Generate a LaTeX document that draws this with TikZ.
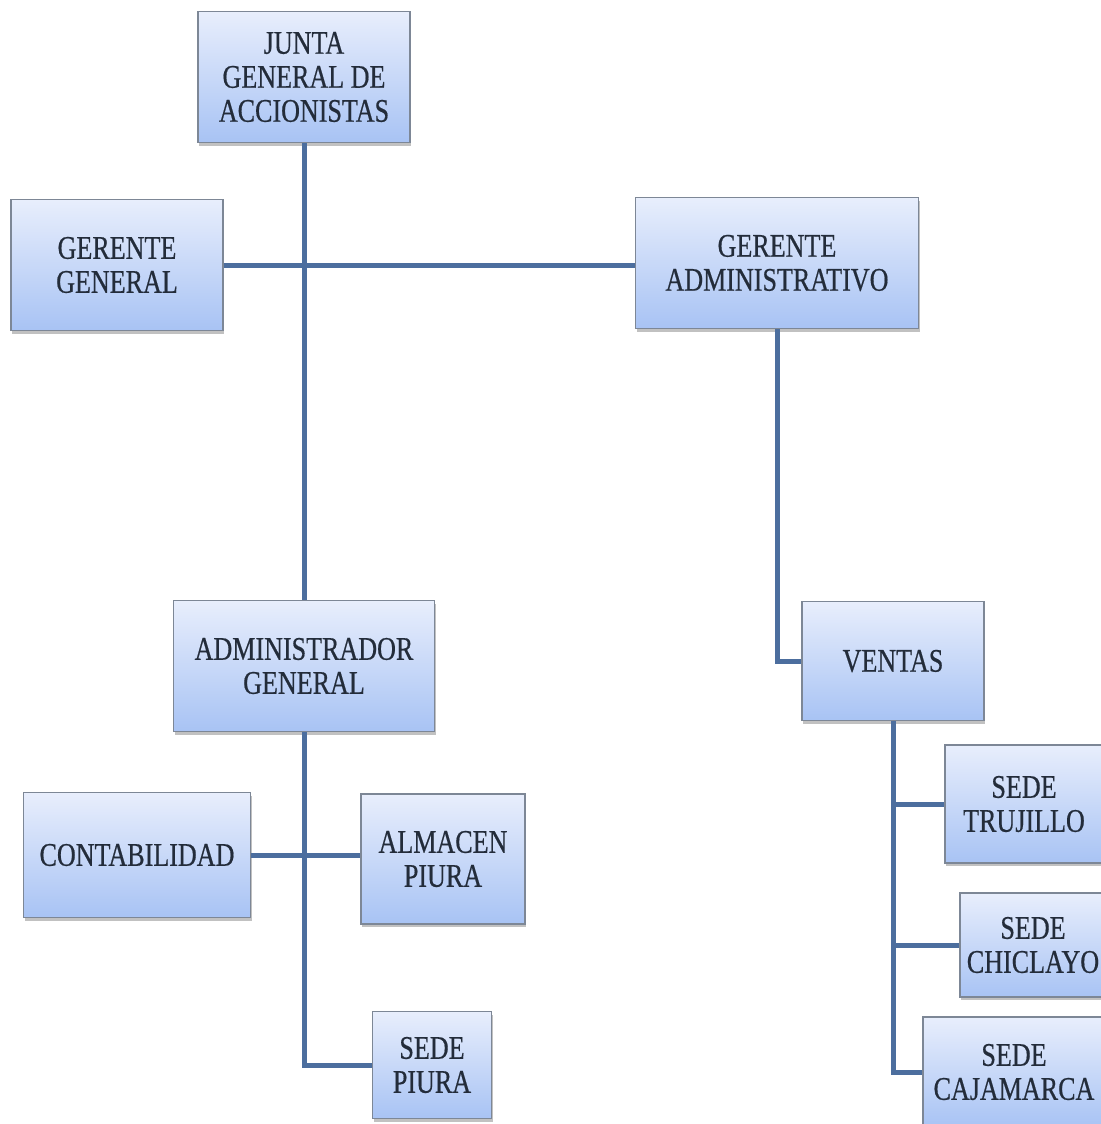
\documentclass[tikz,border=0pt]{standalone}
\usepackage{fontspec}
\setmainfont[FakeStretch=0.79,FakeBold=0.5]{Liberation Serif}
\usetikzlibrary{shadows}
\definecolor{boxtop}{HTML}{E8EEFC}
\definecolor{boxbot}{HTML}{A8C3F4}
\definecolor{boxline}{HTML}{7D8796}
\definecolor{conn}{HTML}{4C6E9E}
\definecolor{txt}{HTML}{232C3A}
\begin{document}
\begin{tikzpicture}[x=1pt,y=-1pt,
  orgbox/.style={draw=boxline, line width=1.2pt, top color=boxtop, bottom color=boxbot,
    rectangle, inner sep=0pt, align=center, text=txt,
    font=\fontsize{33}{34}\selectfont,
    drop shadow={shadow xshift=1pt, shadow yshift=-3pt, opacity=0.35, fill=black!70}},
  link/.style={draw=conn, line width=5pt}]
\useasboundingbox (0,0) rectangle (1100,1124);
\node[orgbox, minimum width=212pt, minimum height=131pt] (junta) at (304,77) {JUNTA\\GENERAL DE\\ACCIONISTAS};
\node[orgbox, minimum width=212pt, minimum height=131pt] (gg) at (117,265) {GERENTE\\GENERAL};
\node[orgbox, minimum width=283pt, minimum height=131pt] (ga) at (777,263) {GERENTE\\ADMINISTRATIVO};
\node[orgbox, minimum width=261pt, minimum height=131pt] (admin) at (304,666) {ADMINISTRADOR\\GENERAL};
\node[orgbox, minimum width=182pt, minimum height=119pt] (ventas) at (893,661) {VENTAS};
\node[orgbox, minimum width=227pt, minimum height=125pt] (conta) at (137,855) {CONTABILIDAD};
\node[orgbox, minimum width=164pt, minimum height=130pt] (almacen) at (443,859) {ALMACEN\\PIURA};
\node[orgbox, minimum width=119pt, minimum height=107pt] (piura) at (432,1065) {SEDE\\PIURA};
\node[orgbox, minimum width=158pt, minimum height=118pt] (trujillo) at (1024,804) {SEDE\\TRUJILLO};
\node[orgbox, minimum width=146pt, minimum height=104pt] (chiclayo) at (1033,945) {SEDE\\CHICLAYO};
\node[orgbox, minimum width=182pt, minimum height=110pt] (cajamarca) at (1014,1072) {SEDE\\CAJAMARCA};
\draw[link] (junta.south) -- (junta.south |- admin.north);
\draw[link] (gg.east) -- (gg.east -| ga.west);
\draw[link] (ga.south) |- (ventas.west);
\draw[link] (admin.south) |- (piura.west);
\draw[link] (conta.east) -- (conta.east -| almacen.west);
\draw[link] (ventas.south) |- (cajamarca.west);
\draw[link] (ventas.south |- trujillo.west) -- (trujillo.west);
\draw[link] (ventas.south |- chiclayo.west) -- (chiclayo.west);
\end{tikzpicture}
\end{document}
